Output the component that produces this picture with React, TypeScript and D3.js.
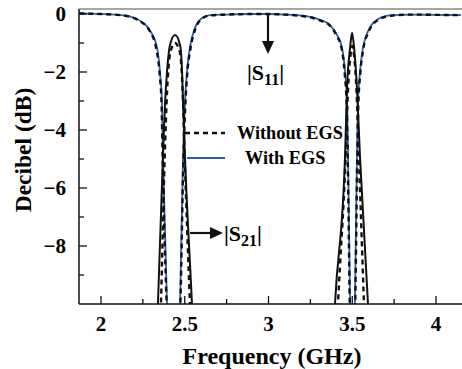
import { useEffect, useRef } from "react";
import * as d3 from "d3";

// |S11| curves (reflection)
const s11WithFreq = [1.87, 2.0, 2.1, 2.17, 2.23, 2.29, 2.334, 2.352, 2.364, 2.37, 2.394, 2.433, 2.472, 2.49, 2.501, 2.513, 2.531, 2.561, 2.603, 2.65, 2.75, 2.9, 3.0, 3.1, 3.2, 3.248, 3.307, 3.367, 3.409, 3.439, 3.457, 3.469, 3.475, 3.487, 3.501, 3.516, 3.528, 3.534, 3.546, 3.564, 3.594, 3.648, 3.725, 3.85, 4.0, 4.15];
const s11WithDb = [0.02, 0.0, -0.03, -0.08, -0.22, -0.55, -1.15, -2.0, -3.1, -4.9, -10, -14, -10, -4.9, -3.1, -2.0, -1.15, -0.48, -0.14, -0.04, -0.02, 0.0, 0.0, -0.02, -0.06, -0.1, -0.2, -0.38, -0.72, -1.17, -2.0, -3.1, -4.9, -10, -14, -10, -4.9, -3.1, -2.0, -1.17, -0.6, -0.2, -0.05, -0.02, -0.03, -0.04];

const s11WithoutFreq = [1.87, 2.0, 2.1, 2.17, 2.23, 2.29, 2.33, 2.35, 2.362, 2.368, 2.392, 2.433, 2.474, 2.492, 2.503, 2.515, 2.534, 2.564, 2.606, 2.65, 2.75, 2.9, 3.0, 3.1, 3.2, 3.248, 3.307, 3.367, 3.407, 3.437, 3.455, 3.467, 3.473, 3.485, 3.501, 3.518, 3.53, 3.536, 3.548, 3.566, 3.597, 3.65, 3.73, 3.85, 4.0, 4.15];
const s11WithoutDb = [0.02, 0.0, -0.03, -0.09, -0.24, -0.58, -1.2, -2.05, -3.2, -5.0, -10, -14, -10, -5.0, -3.2, -2.05, -1.2, -0.5, -0.15, -0.05, -0.02, 0.0, 0.0, -0.02, -0.07, -0.11, -0.22, -0.4, -0.75, -1.2, -2.05, -3.2, -5.0, -10, -14, -10, -5.0, -3.2, -2.05, -1.2, -0.62, -0.22, -0.06, -0.02, -0.03, -0.04];

// |S21| curves (transmission)
const s21WithFreq = [2.28, 2.34, 2.37, 2.382, 2.394, 2.412, 2.442, 2.472, 2.484, 2.49, 2.501, 2.543, 2.6, 3.0, 3.34, 3.397, 3.457, 3.469, 3.487, 3.499, 3.511, 3.528, 3.546, 3.594, 3.65];
const s21WithDb = [-18, -10, -4.9, -3.1, -2.0, -1.07, -0.72, -1.07, -2.0, -3.1, -4.9, -10, -18, -30, -18, -10, -4.9, -2.55, -1.17, -0.65, -1.17, -2.55, -4.9, -10, -18];

const s21WithoutFreq = [2.28, 2.358, 2.38, 2.395, 2.415, 2.442, 2.47, 2.487, 2.5, 2.531, 2.59, 3.0, 3.36, 3.415, 3.46, 3.475, 3.49, 3.5, 3.51, 3.525, 3.54, 3.57, 3.62];
const s21WithoutDb = [-18, -10, -5, -2.6, -1.3, -1.0, -1.3, -2.6, -5, -10, -18, -30, -18, -10, -5, -2.6, -1.4, -1.1, -1.4, -2.6, -5, -10, -18];

const xMajor = [2, 2.5, 3, 3.5, 4];
const xMajorLabels = ["2", "2.5", "3", "3.5", "4"];
const xMinor = [2.25, 2.75, 3.25, 3.75];
const yMajor = [0, -2, -4, -6, -8];
const yMajorLabels = ["0", "\u22122", "\u22124", "\u22126", "\u22128"];
const yMinor = [-1, -3, -5, -7, -9];

const FONT = "'Liberation Serif', 'Times New Roman', serif";

function App() {
  const svgRef = useRef();

  useEffect(() => {
    const width = 462;
    const height = 369;
    const left = 79;
    const bottom = 304;
    const top = 9;

    const svg = d3.select(svgRef.current);
    svg.selectAll("*").remove();
    svg.attr("width", width).attr("height", height);

    const x = d3.scaleLinear().domain([2, 4]).range([101, 436]);
    const y = d3.scaleLinear().domain([-10, 0]).range([bottom, 14]);

    svg
      .append("defs")
      .append("clipPath")
      .attr("id", "plot-clip")
      .append("rect")
      .attr("x", left)
      .attr("y", top)
      .attr("width", width - left)
      .attr("height", bottom - top);

    // frame
    svg.append("line").attr("x1", left).attr("x2", width).attr("y1", top).attr("y2", top)
      .attr("stroke", "#8a8a8a").attr("stroke-width", 1.5);

    const line = (fs, ds) =>
      d3.line().curve(d3.curveMonotoneX)(fs.map((f, i) => [x(f), y(ds[i])]));

    const g = svg.append("g").attr("clip-path", "url(#plot-clip)");

    const curves = [
      { f: s11WithFreq, d: s11WithDb, color: "#2a5fb0", w: 1.8, dash: null },
      { f: s11WithoutFreq, d: s11WithoutDb, color: "#111", w: 2.4, dash: "5,4" },
      { f: s21WithFreq, d: s21WithDb, color: "#111", w: 2, dash: null },
      { f: s21WithoutFreq, d: s21WithoutDb, color: "#111", w: 2.4, dash: "5,4" },
    ];
    curves.forEach((c) => {
      g.append("path")
        .attr("d", line(c.f, c.d))
        .attr("fill", "none")
        .attr("stroke", c.color)
        .attr("stroke-width", c.w)
        .attr("stroke-dasharray", c.dash);
    });

    // axes
    svg.append("line").attr("x1", left).attr("x2", width).attr("y1", bottom).attr("y2", bottom)
      .attr("stroke", "#111").attr("stroke-width", 1.5);
    svg.append("line").attr("x1", left).attr("x2", left).attr("y1", top).attr("y2", bottom)
      .attr("stroke", "#111").attr("stroke-width", 1.5);

    xMajor.forEach((v, i) => {
      svg.append("line").attr("x1", x(v)).attr("x2", x(v)).attr("y1", bottom).attr("y2", bottom - 8)
        .attr("stroke", "#111").attr("stroke-width", 1.3);
      svg.append("text").attr("x", x(v)).attr("y", 331).attr("text-anchor", "middle")
        .attr("font-family", FONT).attr("font-weight", "bold").attr("font-size", 21)
        .text(xMajorLabels[i]);
    });
    xMinor.forEach((v) => {
      svg.append("line").attr("x1", x(v)).attr("x2", x(v)).attr("y1", bottom).attr("y2", bottom - 5)
        .attr("stroke", "#111").attr("stroke-width", 1.3);
    });
    yMajor.forEach((v, i) => {
      svg.append("line").attr("x1", left).attr("x2", left + 8).attr("y1", y(v)).attr("y2", y(v))
        .attr("stroke", "#111").attr("stroke-width", 1.3);
      svg.append("text").attr("x", 66).attr("y", y(v) + 7).attr("text-anchor", "end")
        .attr("font-family", FONT).attr("font-weight", "bold").attr("font-size", 21)
        .text(yMajorLabels[i]);
    });
    yMinor.forEach((v) => {
      svg.append("line").attr("x1", left).attr("x2", left + 5).attr("y1", y(v)).attr("y2", y(v))
        .attr("stroke", "#111").attr("stroke-width", 1.3);
    });

    // axis titles
    svg.append("text").attr("x", 272).attr("y", 364).attr("text-anchor", "middle")
      .attr("font-family", FONT).attr("font-weight", "bold").attr("font-size", 24)
      .text("Frequency (GHz)");
    svg.append("text").attr("transform", "translate(31,150) rotate(-90)").attr("text-anchor", "middle")
      .attr("font-family", FONT).attr("font-weight", "bold").attr("font-size", 23.5)
      .text("Decibel (dB)");

    // legend
    svg.append("line").attr("x1", 185).attr("x2", 225).attr("y1", 133).attr("y2", 133)
      .attr("stroke", "#111").attr("stroke-width", 2.4).attr("stroke-dasharray", "5,4");
    svg.append("text").attr("x", 237).attr("y", 139)
      .attr("font-family", FONT).attr("font-weight", "bold").attr("font-size", 18.3)
      .text("Without EGS");
    svg.append("line").attr("x1", 187).attr("x2", 225).attr("y1", 158).attr("y2", 158)
      .attr("stroke", "#2a5fb0").attr("stroke-width", 1.8);
    svg.append("text").attr("x", 245).attr("y", 164)
      .attr("font-family", FONT).attr("font-weight", "bold").attr("font-size", 18.3)
      .text("With EGS");

    // annotations
    svg.append("line").attr("x1", 268).attr("x2", 268).attr("y1", 14).attr("y2", 42)
      .attr("stroke", "#111").attr("stroke-width", 2.2);
    svg.append("path").attr("d", "M262,41 L274,41 L268,54 Z").attr("fill", "#111");
    const t11 = svg.append("text").attr("x", 247).attr("y", 80)
      .attr("font-family", FONT).attr("font-weight", "bold").attr("font-size", 22);
    t11.append("tspan").text("|S");
    t11.append("tspan").attr("dy", 5).attr("font-size", 16).text("11");
    t11.append("tspan").attr("dy", -5).text("|");

    svg.append("line").attr("x1", 190).attr("x2", 211).attr("y1", 233).attr("y2", 233)
      .attr("stroke", "#111").attr("stroke-width", 2.2);
    svg.append("path").attr("d", "M210,227 L210,239 L223,233 Z").attr("fill", "#111");
    const t21 = svg.append("text").attr("x", 224).attr("y", 241)
      .attr("font-family", FONT).attr("font-weight", "bold").attr("font-size", 22);
    t21.append("tspan").text("|S");
    t21.append("tspan").attr("dy", 5).attr("font-size", 16).text("21");
    t21.append("tspan").attr("dy", -5).text("|");
  }, []);

  return (
    <svg ref={svgRef} style={{ position: "absolute", left: 0, top: 0, background: "#fff" }}></svg>
  );
}

export default App;
